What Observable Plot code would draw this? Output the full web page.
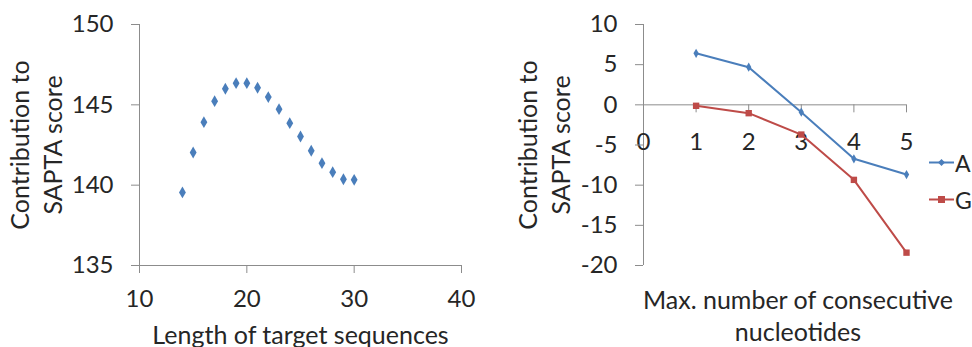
<!DOCTYPE html>
<html>
<head>
<meta charset="utf-8">
<script src="https://cdn.jsdelivr.net/npm/d3@7"></script>
<script src="https://cdn.jsdelivr.net/npm/@observablehq/plot@0.6"></script>
<style>
  body { margin: 0; background: white; }
  #wrap { position: relative; width: 972px; height: 347px; display: flex; font-family: Lato, sans-serif; }
  #legend { position: absolute; left: 929px; top: 144px; font-size: 23px; color: #262626; }
  #legend .item { display: flex; align-items: center; height: 37px; }
  #legend svg { margin-right: 1px; }
</style>
</head>
<body>
<div id="wrap"></div>
<script>
// ---- Data ----
const lengths = [14, 15, 16, 17, 18, 19, 20, 21, 22, 23, 24, 25, 26, 27, 28, 29, 30];
const lengthScores = [139.55, 142.03, 143.92, 145.23, 146.0, 146.35, 146.35, 146.06, 145.48, 144.73, 143.86, 143.03, 142.14, 141.37, 140.81, 140.37, 140.33];

const consecutive = [1, 2, 3, 4, 5];
const seriesNames = ["A", "G"];
const seriesA = [6.42, 4.68, -0.92, -6.72, -8.68];
const seriesG = [-0.12, -1.04, -3.7, -9.34, -18.4];

const leftXTicks = [10, 20, 30, 40];
const leftYTicks = [135, 140, 145, 150];
const rightXTicks = [0, 1, 2, 3, 4, 5];
const rightYTicks = [-20, -15, -10, -5, 0, 5, 10];

const yTitle = "Contribution to\nSAPTA score";
const leftXTitle = "Length of target sequences";
const rightXTitle = "Max. number of consecutive\nnucleotides";

// ---- Styles ----
const blue = "#4A7EBB";
const red = "#BE4B48";
const axisColor = "#8C8C8C";
const textColor = "#262626";
const tickFont = 24;
const titleFont = 25;
const baseStyle = {fontFamily: "Lato, sans-serif", fontSize: tickFont + "px", color: textColor, background: "white", overflow: "visible"};

const wrap = document.getElementById("wrap");

// Left chart
const left = Plot.plot({
  width: 480, height: 347,
  marginLeft: 139, marginRight: 19, marginTop: 24, marginBottom: 82,
  style: baseStyle,
  x: {domain: [10, 40], label: null, axis: null},
  y: {domain: [135, 150], label: null, axis: null},
  marks: [
    Plot.ruleX([10], {stroke: axisColor}),
    Plot.ruleY([135], {stroke: axisColor}),
    Plot.axisX({ticks: leftXTicks, tickSize: 8, tickPadding: 16, stroke: axisColor, fill: textColor, fontSize: tickFont, label: null, tickFormat: d => String(d)}),
    Plot.axisY({ticks: leftYTicks, tickSize: 8, tickPadding: 18, stroke: axisColor, fill: textColor, fontSize: tickFont, label: null, tickFormat: d => String(d)}),
    Plot.dot(lengths, {x: d => d, y: (d, i) => lengthScores[i], symbol: "diamond", r: 3.6, fill: blue}),
    Plot.text([yTitle], {text: d => d, frameAnchor: "left", textAnchor: "middle", lineAnchor: "middle", rotate: -90, dx: -105, lineHeight: 1.32, fontSize: titleFont, fill: textColor}),
    Plot.text([leftXTitle], {text: d => d, frameAnchor: "bottom", textAnchor: "middle", lineAnchor: "middle", dy: 70, fontSize: titleFont, fill: textColor})
  ]
});
wrap.appendChild(left);

// Right chart
const rows = consecutive.map((c, i) => ({n: c, A: seriesA[i], G: seriesG[i]}));
const right = Plot.plot({
  width: 492, height: 347,
  marginLeft: 163, marginRight: 66, marginTop: 24, marginBottom: 82,
  style: baseStyle,
  x: {domain: [0, 5], label: null, axis: null},
  y: {domain: [-20, 10], label: null, axis: null},
  marks: [
    Plot.ruleX([0], {stroke: axisColor}),
    Plot.ruleY([0], {stroke: axisColor}),
    Plot.ruleX(rightXTicks, {x: d => d, y1: d => 0, y2: d => 0, insetBottom: -8, stroke: axisColor}),
    Plot.text(rightXTicks, {x: d => d, y: d => 0, dy: 37, text: d => String(d), fontSize: tickFont, fill: textColor}),
    Plot.axisY({ticks: rightYTicks, tickSize: 8, tickPadding: 18, stroke: axisColor, fill: textColor, fontSize: tickFont, label: null, tickFormat: d => String(d)}),
    Plot.line(rows, {x: "n", y: "A", stroke: blue, strokeWidth: 2}),
    Plot.dot(rows, {x: "n", y: "A", symbol: "diamond", r: 2.8, fill: blue}),
    Plot.line(rows, {x: "n", y: "G", stroke: red, strokeWidth: 2}),
    Plot.dot(rows, {x: "n", y: "G", symbol: "square", r: 3.6, fill: red}),
    Plot.text([yTitle], {text: d => d, frameAnchor: "left", textAnchor: "middle", lineAnchor: "middle", rotate: -90, dx: -101, lineHeight: 1.32, fontSize: titleFont, fill: textColor}),
    Plot.text([rightXTitle], {text: d => d, frameAnchor: "bottom", textAnchor: "middle", lineAnchor: "middle", dy: 49, dx: 23, lineHeight: 1.3, fontSize: titleFont, fill: textColor})
  ]
});
wrap.appendChild(right);

// Legend
const legend = document.createElement("div");
legend.id = "legend";
const colors = {A: blue, G: red};
seriesNames.forEach(name => {
  const item = document.createElement("div");
  item.className = "item";
  const marker = name === "A"
    ? `<polygon points="12.5,5 16,8.5 12.5,12 9,8.5" fill="${blue}"/>`
    : `<rect x="9" y="5" width="7" height="7" fill="${red}"/>`;
  item.innerHTML = `<svg width="25" height="17"><line x1="0" x2="25" y1="8.5" y2="8.5" stroke="${colors[name]}" stroke-width="2"/>${marker}</svg><span>${name}</span>`;
  legend.appendChild(item);
});
wrap.appendChild(legend);
</script>
</body>
</html>
